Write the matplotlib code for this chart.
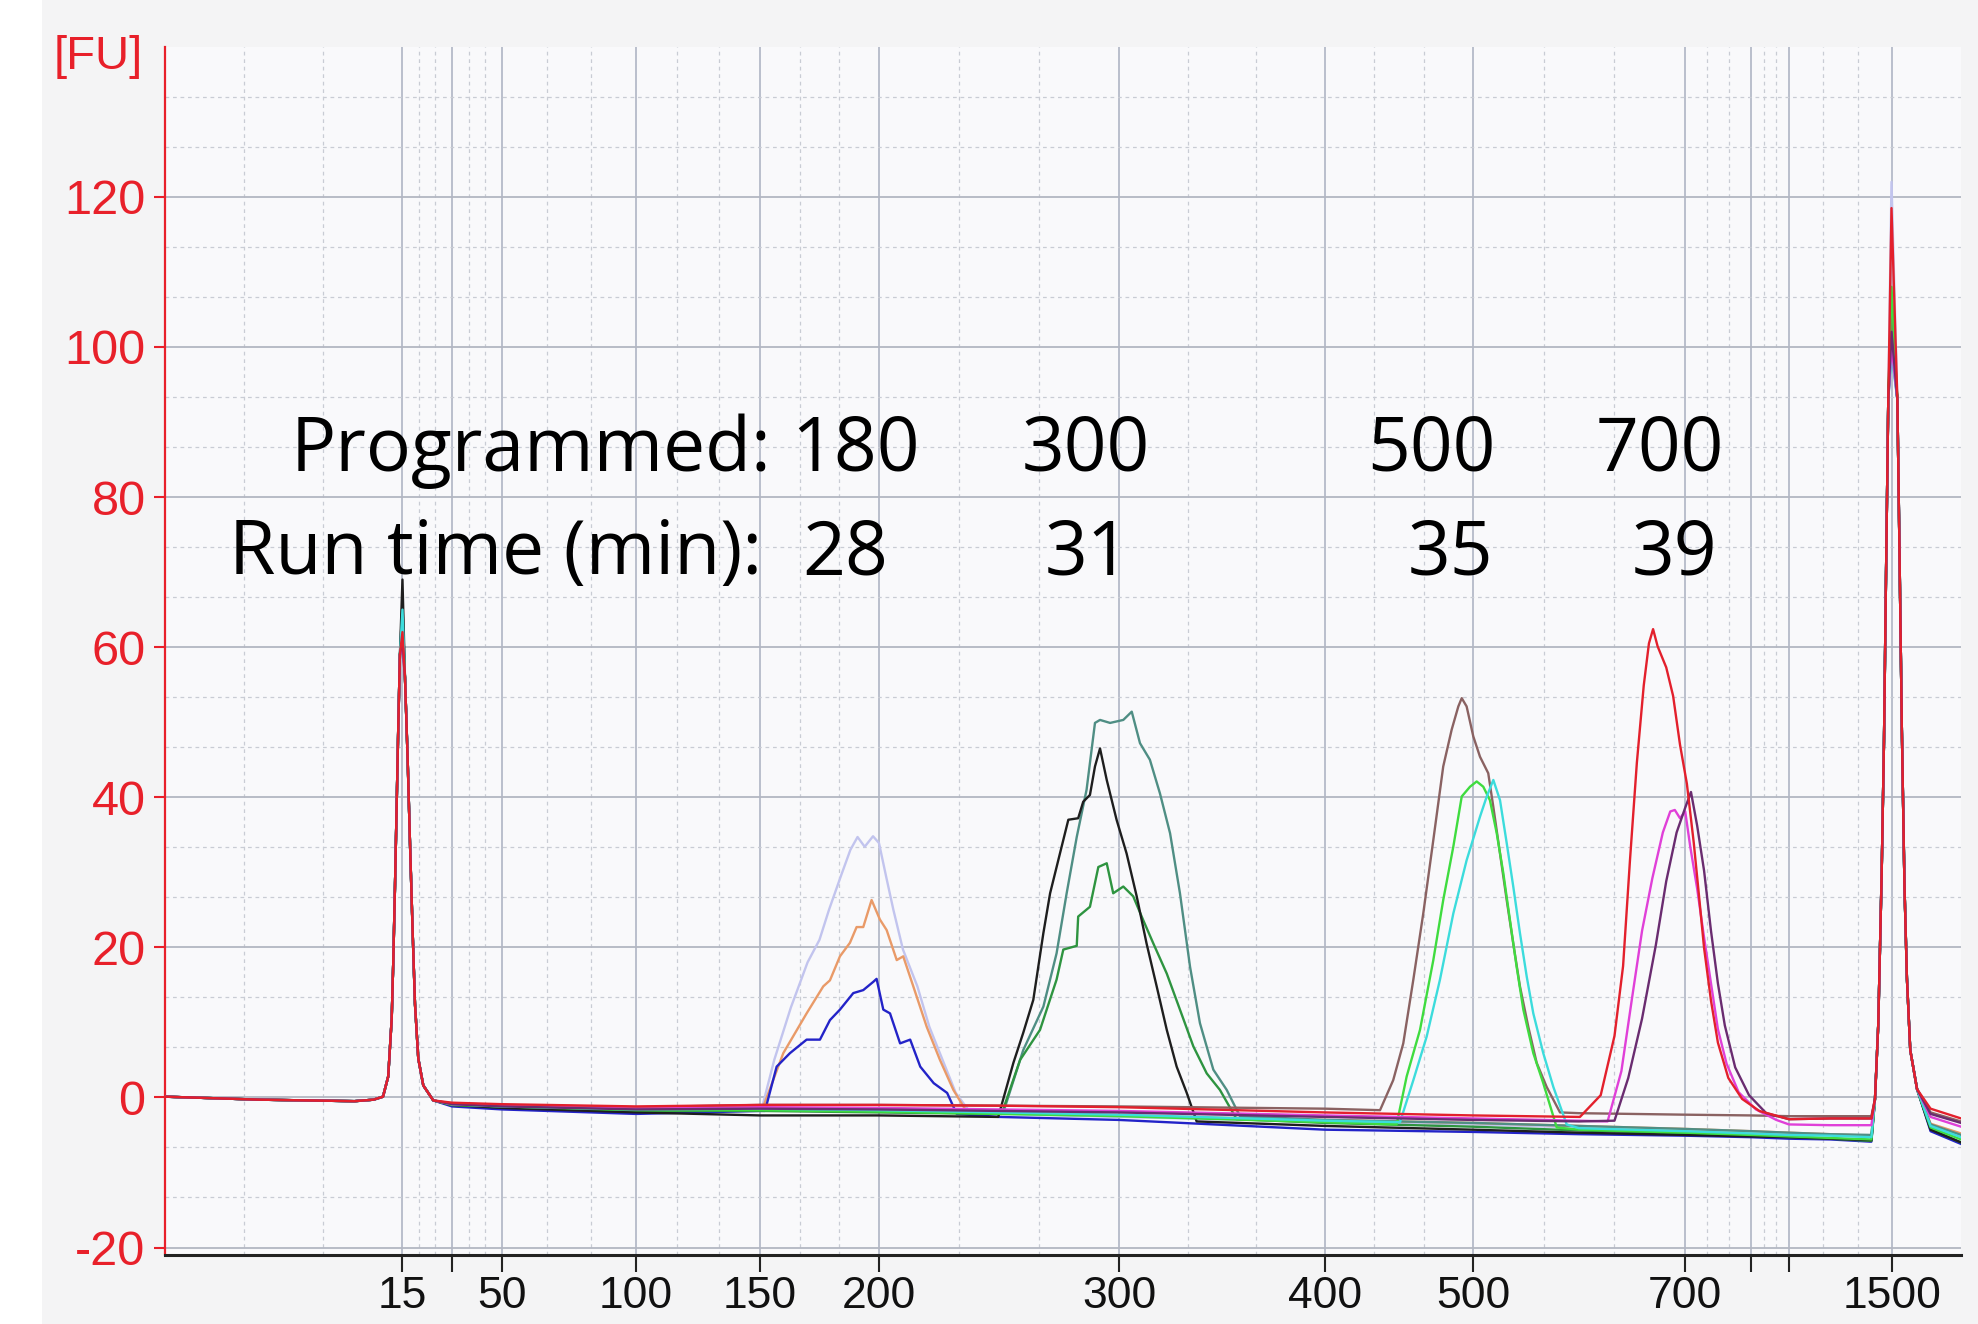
import numpy as np
import matplotlib
matplotlib.use("Agg")
import matplotlib.pyplot as plt
from matplotlib import font_manager as fm

plt.rcParams["axes.unicode_minus"] = False

# ---- axis layout: ladder sizes and where they sit along the time axis ----
anchor_bp = [0, 15, 25, 50, 100, 150, 200, 300, 400, 500, 700, 850, 1000, 1500, 1830]
anchor_pos = [0, 237, 287, 337, 471, 595, 714, 954, 1160, 1308, 1520, 1586, 1624, 1727, 1796]
tick_bp = [15, 25, 50, 100, 150, 200, 300, 400, 500, 700, 850, 1000, 1500]
tick_labels = ["15", "", "50", "100", "150", "200", "300", "400", "500", "700", "", "", "1500"]
y_ticks = [-20, 0, 20, 40, 60, 80, 100, 120]

# ---- samples ----
names = ["180 a", "180 b", "180 c", "300 a", "300 b", "300 c",
         "500 a", "500 b", "500 c", "700 a", "700 b", "700 c"]
colors = ["#c2c4ee", "#e99a68", "#2323c8", "#1e1e1e", "#4f8e84", "#2e9440",
          "#8a6262", "#3fdc3f", "#3cdcdc", "#e3202c", "#e040d8", "#6a2c70"]

# shared baseline before lower marker
left_bp = [0, 3, 6, 9, 12, 13.2]
left_fu = [0.1, -0.1, -0.3, -0.4, -0.5, -0.3]

# lower marker (15 bp)
lm_rise_bp = [13.8, 14.13, 14.35, 14.45, 14.56, 14.66, 14.76, 14.87]
lm_rise_fu = [0.1, 2.8, 10.5, 18.1, 28.3, 38.5, 48.7, 59]
lm_top_bp = 15.1
lm_fall_bp = [15.6, 16.14, 16.6, 17.14, 17.6, 18.26, 19.26, 21.26]
lm_fall_fu = [56, 45, 34, 22, 12.5, 5.2, 1.6, -0.4]
lower_top = [61, 60, 62, 69, 66, 63, 60, 62, 65, 62, 60, 61]

# upper marker (1500 bp)
um_rise_bp = [1417.5, 1433.5, 1450, 1461.2, 1470.9, 1482]
um_rise_fu = [-0.2, 9.8, 30, 47.5, 69.3, 93]
um_top_bp = 1497.6
um_fall_bp = [1525.7, 1535.4, 1547.1, 1559.7, 1571.4, 1587.4, 1619.9]
um_fall_fu = [93, 73.7, 49.2, 28.2, 15.9, 6.3, 1.1]
upper_top = [122, 104, 101, 103, 100, 107, 104, 108, 99, 118.5, 100, 102]

tail_bp = [1684.5, 1830]
tail_fu = [[-3.6, -5.0], [-3.5, -4.8], [-4.5, -6.2], [-4.3, -6.0], [-3.6, -5.0], [-4.2, -6.0],
           [-2.0, -3.2], [-4.0, -5.6], [-3.8, -5.3], [-1.5, -2.8], [-2.6, -3.9], [-2.2, -3.4]]

# baseline drift between the markers
base_bp = [25, 50, 100, 150, 200, 250, 300, 400, 500, 600, 700, 850, 1000, 1200, 1400]
base_fu = [
    [-0.9, -1.1, -1.5, -1.4, -1.8, -2.2, -2.6, -3.2, -3.6, -4.0, -4.3, -4.6, -4.8, -5.0, -5.2],
    [-0.9, -1.1, -1.5, -1.3, -1.6, -2.0, -2.4, -3.0, -3.4, -3.8, -4.2, -4.5, -4.7, -4.9, -5.1],
    [-1.2, -1.6, -2.2, -1.8, -2.0, -2.6, -3.0, -4.3, -4.6, -4.9, -5.1, -5.3, -5.5, -5.6, -5.9],
    [-1.0, -1.4, -2.0, -2.4, -2.4, -2.6, -3.0, -3.8, -4.3, -4.7, -5.0, -5.2, -5.3, -5.5, -5.7],
    [-0.9, -1.1, -1.6, -1.6, -1.8, -2.0, -2.2, -3.0, -3.4, -3.8, -4.2, -4.5, -4.7, -4.9, -5.0],
    [-1.0, -1.3, -1.8, -1.8, -2.0, -2.2, -2.6, -3.4, -3.9, -4.4, -4.8, -5.1, -5.3, -5.5, -5.8],
    [-0.8, -1.0, -1.3, -1.0, -1.0, -1.1, -1.2, -1.5, -1.8, -2.1, -2.3, -2.4, -2.5, -2.5, -2.5],
    [-1.0, -1.2, -1.7, -1.7, -1.9, -2.2, -2.5, -3.3, -3.8, -4.3, -4.7, -5.0, -5.2, -5.4, -5.6],
    [-0.9, -1.2, -1.6, -1.5, -1.7, -2.0, -2.3, -3.1, -3.6, -4.1, -4.5, -4.8, -5.0, -5.1, -5.3],
    [-0.7, -0.9, -1.2, -1.0, -1.0, -1.1, -1.3, -2.0, -2.4, -2.6, -2.8, -2.9, -2.9, -2.8, -2.8],
    [-0.9, -1.1, -1.5, -1.3, -1.4, -1.6, -1.8, -2.4, -2.8, -3.1, -3.4, -3.6, -3.6, -3.7, -3.7],
    [-0.9, -1.2, -1.6, -1.5, -1.6, -1.8, -2.0, -2.6, -3.0, -3.2, -3.3, -3.0, -2.9, -2.8, -2.8],
]

# sample peaks
peak_bp = [
    [151, 156, 163, 170, 175, 179, 184, 188, 191, 194, 197.5, 200, 203, 206, 210, 216, 221, 227, 232, 238],
    [151.3, 159.8, 169.6, 176.6, 179.4, 183.6, 187.8, 190.6, 193.4, 196.9, 200.4, 203.2, 207.4, 210.1,
     214.3, 219.9, 225.4, 231, 236.5],
    [152.1, 157, 162.6, 169.6, 175.2, 179.4, 183.6, 189.2, 193.4, 197.6, 199, 201.8, 204.6, 208.8, 213,
     217.2, 222.8, 228.4, 232.4],
    [249.7, 256, 260.1, 264.3, 268.5, 271.3, 275.4, 278.9, 283, 285.1, 287.9, 290, 292.1, 294.9, 299,
     303.7, 308.6, 313.4, 318.3, 323.2, 328, 332.9, 337.7],
    [251.8, 260.1, 268.5, 274, 278.2, 282.4, 286.5, 290, 292.1, 296.3, 302.1, 306.2, 310.2, 315, 319.9,
     324.8, 329.6, 334.5, 339.3, 345.8, 352.3, 358.7],
    [251.1, 258.8, 267.1, 274, 276.8, 282.4, 283, 287.9, 291.4, 294.9, 297.6, 302.1, 306.9, 311.8, 316.7,
     323.2, 329.6, 336.1, 342.6, 349, 357.1],
    [437.2, 446.1, 452.9, 459.7, 466.4, 473.2, 479.9, 485.6, 490.1, 492.4, 495.7, 500.3, 506.6, 514.4,
     519.2, 525.5, 531.8, 538, 544.3, 552.2, 560.1, 569.5, 582.1],
    [448.4, 455.2, 464.2, 473.2, 479.9, 486.7, 492.4, 498, 503.5, 509.7, 516, 522.4, 528.6, 534.9, 541.2,
     547.5, 556.9, 566.3, 579],
    [450.7, 459.7, 468.7, 477.7, 486.7, 495.7, 506.6, 513, 519.2, 525.5, 531.8, 538, 544.3, 550.7, 556.9,
     566.3, 575.8, 588.4],
    [600.9, 620.5, 633.5, 641.6, 648.1, 654.6, 661.1, 666, 669.9, 674.2, 682.3, 688.8, 695.3, 704.3, 720,
     731.8, 743.4, 759.1, 774.8, 798.4, 829.8, 882.8],
    [627, 640, 649.7, 659.5, 669.2, 679.1, 686.1, 690.4, 695.3, 700.5, 712, 727.7, 743.4, 759.1, 774.8,
     794.5, 821.8, 869.4, 950],
    [633.5, 646.5, 659.5, 672.5, 682.3, 692.1, 700.5, 713.6, 727.7, 743.4, 759.1, 774.8, 790.5, 814.1,
     845.5, 910],
]
peak_fu = [
    [-1.2, 5, 12, 18, 21, 25, 29.5, 33, 34.7, 33.4, 34.8, 33.9, 29.4, 25, 19.7, 14.8, 9.4, 4.6, 0.6, -2.0],
    [-1.3, 5.9, 11.2, 14.8, 15.6, 18.8, 20.6, 22.7, 22.7, 26.3, 23.7, 22.3, 18.3, 18.8, 14.8, 9.4, 5.0,
     1.0, -1.9],
    [-1.8, 4.1, 5.9, 7.7, 7.7, 10.3, 11.7, 13.9, 14.3, 15.4, 15.8, 11.7, 11.2, 7.2, 7.7, 4.1, 1.9, 0.6, -2.2],
    [-2.6, 4.6, 8.6, 13, 21.9, 27.2, 32.5, 37, 37.2, 39.4, 40.3, 44.1, 46.5, 42.3, 37, 32.5, 26.8, 20.5,
     14.8, 9, 4.1, 0.6, -3.2],
    [-2.0, 6.3, 12.1, 19.2, 27.2, 34.7, 41, 49.9, 50.3, 49.9, 50.3, 51.4, 47.2, 45, 40.5, 35.2, 27.2, 17.4,
     9.9, 3.7, 1, -2.5],
    [-2.2, 5, 9, 15.7, 19.7, 20.2, 24.1, 25.4, 30.7, 31.2, 27.2, 28.1, 26.8, 23.6, 20.5, 16.5, 11.7, 6.8,
     3.2, 1, -2.9],
    [-1.7, 2.3, 7.2, 15.7, 24.5, 34.3, 44.1, 49, 52.1, 53.2, 52.1, 48.1, 45.4, 43.2, 38.7, 32.5, 26.3,
     20.5, 14.8, 9.4, 4.6, 1.4, -2.0],
    [-3.6, 2.8, 9, 18.3, 26.3, 33.4, 40.1, 41.4, 42.1, 41.4, 39.6, 35.2, 29.9, 23.6, 17.4, 11.7, 5.9, 1.9,
     -4.0],
    [-3.3, 2.3, 8.1, 15.7, 24.5, 31.6, 37.4, 40.1, 42.3, 39.6, 33.9, 28.1, 21.9, 16.1, 11.2, 5.9, 1.4, -3.6],
    [-2.6, 0.3, 8.2, 17.5, 31.6, 44.6, 54.9, 60.5, 62.4, 60.1, 57.3, 53.5, 47, 41.8, 33.9, 26.9, 19.9,
     12.9, 7.3, 2.6, -0.2, -1.8],
    [-3.2, 3.5, 12.9, 22.2, 29.2, 35.3, 38.1, 38.3, 37.2, 38.1, 33.4, 27.8, 21.3, 15.2, 9.1, 4.5, 0.7,
     -1.6, -3.0],
    [-3.1, 2.6, 10.5, 20.3, 28.8, 35.3, 38.6, 40.7, 36.2, 30.2, 22.2, 15.2, 9.6, 4, 0.3, -2.1],
]
draw_order = [0, 1, 2, 4, 5, 3, 6, 7, 8, 10, 11, 9]

# annotation rows
prog_sizes = ["180", "300", "500", "700"]
prog_x = [190, 286, 472, 676]
run_times = ["28", "31", "35", "39"]
run_x = [186, 287, 485, 690]


def pick_font(cands):
    for f in cands:
        try:
            fm.findfont(fm.FontProperties(family=f), fallback_to_default=False)
            return f
        except ValueError:
            pass
    return "DejaVu Sans"


tick_font = pick_font(["Liberation Sans Narrow", "Liberation Sans"])
note_font = pick_font(["Open Sans", "Lato"])

BP = np.array(anchor_bp, float)
POS = np.array(anchor_pos, float)
slope_r = (POS[-1] - POS[-2]) / (BP[-1] - BP[-2])
slope_l = (POS[1] - POS[0]) / (BP[1] - BP[0])


def fwd(x):
    x = np.asarray(x, float)
    y = np.interp(x, BP, POS)
    y = np.where(x > BP[-1], POS[-1] + (x - BP[-1]) * slope_r, y)
    return np.where(x < BP[0], POS[0] + (x - BP[0]) * slope_l, y)


def inv(p):
    p = np.asarray(p, float)
    x = np.interp(p, POS, BP)
    x = np.where(p > POS[-1], BP[-1] + (p - POS[-1]) / slope_r, x)
    return np.where(p < POS[0], BP[0] + (p - POS[0]) / slope_l, x)


fig = plt.figure(figsize=(19.78, 13.24), dpi=100, facecolor="#f4f4f5")
fig.patches.append(plt.Rectangle((0, 0), 0.021, 1, transform=fig.transFigure,
                                 facecolor="white", edgecolor="none", zorder=-1))
ax = fig.add_axes([0.0834, 0.0521, 0.9914 - 0.0834, 0.9647 - 0.0521])
ax.set_facecolor("#f9f9fb")
ax.set_xscale("function", functions=(fwd, inv))
ax.set_xlim(0, 1830)
ax.set_ylim(-21, 140)

# gridlines
for b in tick_bp:
    ax.axvline(b, color="#a9afbf", lw=1.1, zorder=0)
grid_pos = fwd([0] + tick_bp)
for p0, p1 in zip(grid_pos[:-1], grid_pos[1:]):
    for k in (1, 2):
        ax.axvline(float(inv(p0 + (p1 - p0) * k / 3)), color="#c9ccd4", lw=0.9,
                   ls=(0, (3, 3)), zorder=0)
for v in y_ticks:
    ax.axhline(v, color="#b3b7c2", lw=1.3, zorder=0)
for v in np.arange(-20, 140, 20):
    for k in (1, 2):
        ax.axhline(v + 20 * k / 3, color="#c9ccd4", lw=0.9, ls=(0, (3, 3)), zorder=0)

# traces
for i in draw_order:
    xs = list(left_bp) + lm_rise_bp + [lm_top_bp] + lm_fall_bp
    ys = list(left_fu) + lm_rise_fu + [lower_top[i]] + lm_fall_fu
    pb, pf = peak_bp[i], peak_fu[i]
    mid = [(b, v) for b, v in zip(base_bp, base_fu[i]) if b < pb[0] or b > pb[-1]]
    mid += list(zip(pb, pf))
    mid.sort()
    xs += [m[0] for m in mid]
    ys += [m[1] for m in mid]
    xs += um_rise_bp + [um_top_bp] + um_fall_bp + tail_bp
    ys += um_rise_fu + [upper_top[i]] + um_fall_fu + tail_fu[i]
    ax.plot(xs, ys, color=colors[i], lw=1.7, label=names[i], zorder=3)

# axes styling
for s in ("top", "right"):
    ax.spines[s].set_visible(False)
ax.spines["left"].set_color("#e8202a")
ax.spines["left"].set_linewidth(1.6)
ax.spines["bottom"].set_color("#222222")
ax.spines["bottom"].set_linewidth(2.2)

ax.set_xticks(tick_bp)
ax.set_xticklabels(tick_labels)
ax.xaxis.set_minor_locator(matplotlib.ticker.NullLocator())
ax.tick_params(axis="x", direction="out", length=12, width=1.5, color="#222222",
               pad=3, labelsize=32, labelcolor="#111111")
ax.set_yticks(y_ticks)
ax.tick_params(axis="y", direction="out", length=8, width=1.5, color="#e8202a",
               pad=6, labelsize=35, labelcolor="#e8202a")
for lab in ax.get_xticklabels() + ax.get_yticklabels():
    lab.set_fontfamily(tick_font)

fig.text(0.027, 0.948, "[FU]", color="#e8202a", fontsize=34, family=tick_font,
         ha="left", va="baseline")

# annotations
fs = 54
ax.text(155, 83.5, "Programmed:", fontsize=fs, family=note_font, ha="right",
        va="baseline", color="black")
for t, x in zip(prog_sizes, prog_x):
    ax.text(x, 83.5, t, fontsize=fs, family=note_font, ha="center", va="baseline")
ax.text(151, 69.7, "Run time (min):", fontsize=fs, family=note_font, ha="right",
        va="baseline", color="black")
for t, x in zip(run_times, run_x):
    ax.text(x, 69.7, t, fontsize=fs, family=note_font, ha="center", va="baseline")

fig.savefig("out.png", dpi=100, facecolor=fig.get_facecolor())
